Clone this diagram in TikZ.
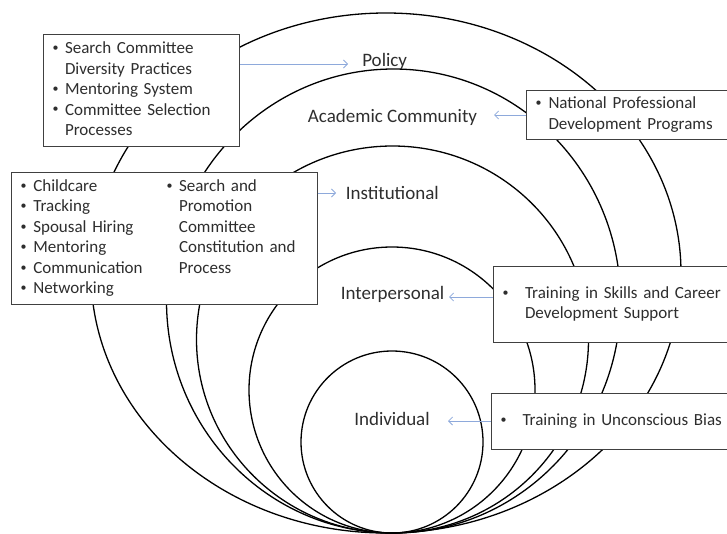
\documentclass[tikz,border=0pt]{standalone}
\usepackage{fontspec}
\setmainfont{Carlito}
\usetikzlibrary{arrows.meta}

\definecolor{linkblue}{HTML}{8EA9DB}
\definecolor{inkgray}{HTML}{2E2E2E}

% small list bullet
\newcommand{\dotmark}{\raisebox{2.2pt}{\fontsize{12}{12}\selectfont\textbullet}}

\tikzset{
  ring/.style={draw=black, line width=1.3pt},
  infobox/.style={draw=black!75, line width=1pt, fill=white, anchor=north west,
    inner xsep=9pt, inner ysep=0pt, align=left, text=inkgray,
    font=\fontsize{17}{20.5}\selectfont},
  level/.style={text=inkgray, font=\fontsize{19}{23}\selectfont, anchor=base, inner sep=0pt},
  link/.style={draw=linkblue, line width=0.8pt, -{Straight Barb[length=4pt,width=8pt]}}
}

\begin{document}
\begin{tikzpicture}[x=1pt,y=-1pt]
  \useasboundingbox (0,0) rectangle (727,533);

  % nested levels, all touching at the bottom
  \draw[ring] (386,273) ellipse [x radius=295pt, y radius=260pt];
  \draw[ring] (393.5,301) ellipse [x radius=227pt, y radius=232pt];
  \draw[ring] (392.5,339.5) ellipse [x radius=196pt, y radius=193.5pt];
  \draw[ring] (392,390) circle (143pt);
  \draw[ring] (392,442) circle (91pt);

  % level names
  \node[level] (policy) at (384.7,66.7) {Policy};
  \node[level] (academic) at (392.5,122.7) {Academic Community};
  \node[level] (institution) at (392.3,199) {Institutional};
  \node[level] (interpersonal) at (392.6,299) {Interpersonal};
  \node[level] (individual) at (392,425.5) {Individual};

  % boxes of measures
  \node[infobox, text width=178pt, minimum height=112pt] (policybox) at (43,34)
    {\begin{tabular}{@{}p{12.5pt}@{}l@{}}
      \dotmark & Search Committee\\
               & Diversity Practices\\
      \dotmark & Mentoring System\\
      \dotmark & Committee Selection\\
               & Processes
     \end{tabular}};
  \node[infobox, text width=183pt, minimum height=49pt] (natbox) at (526,90)
    {\begin{tabular}{@{}p{13pt}@{}l@{}}
      \dotmark & National Professional\\
               & Development Programs
     \end{tabular}};
  \node[infobox, text width=287.6pt, minimum height=132pt] (instbox) at (11,172)
    {\begin{tabular}{@{}p{12.8pt}@{}p{133.4pt}@{}p{12.3pt}@{}l@{}}
      \dotmark & Childcare      & \dotmark & Search and\\
      \dotmark & Tracking       &          & Promotion\\
      \dotmark & Spousal Hiring &          & Committee\\
      \dotmark & Mentoring      &          & Constitution and\\
      \dotmark & Communication  &          & Process\\
      \dotmark & Networking     &          &
     \end{tabular}};
  \node[infobox, text width=216pt, minimum height=76pt] (skillbox) at (493,266)
    {\begin{tabular}{@{}p{22.5pt}@{}l@{}}
      \dotmark & Training in Skills and Career\\
               & Development Support
     \end{tabular}};
  \node[infobox, text width=218pt, minimum height=56pt] (biasbox) at (491,393)
    {\begin{tabular}{@{}p{22pt}@{}l@{}}
      \dotmark & Training in Unconscious Bias
     \end{tabular}};

  % arrows
  \coordinate (policytip) at (348,64);
  \coordinate (academictip) at (494,115);
  \coordinate (institutiontip) at (336,193);
  \coordinate (interpersonaltip) at (449,297);
  \coordinate (individualtip) at (448,421);
  \draw[link] (policybox.east |- policytip) -- (policytip);
  \draw[link] (natbox.west |- academictip) -- (academictip);
  \draw[link] (instbox.east |- institutiontip) -- (institutiontip);
  \draw[link] (skillbox.west |- interpersonaltip) -- (interpersonaltip);
  \draw[link] (biasbox.west |- individualtip) -- (individualtip);
\end{tikzpicture}
\end{document}
